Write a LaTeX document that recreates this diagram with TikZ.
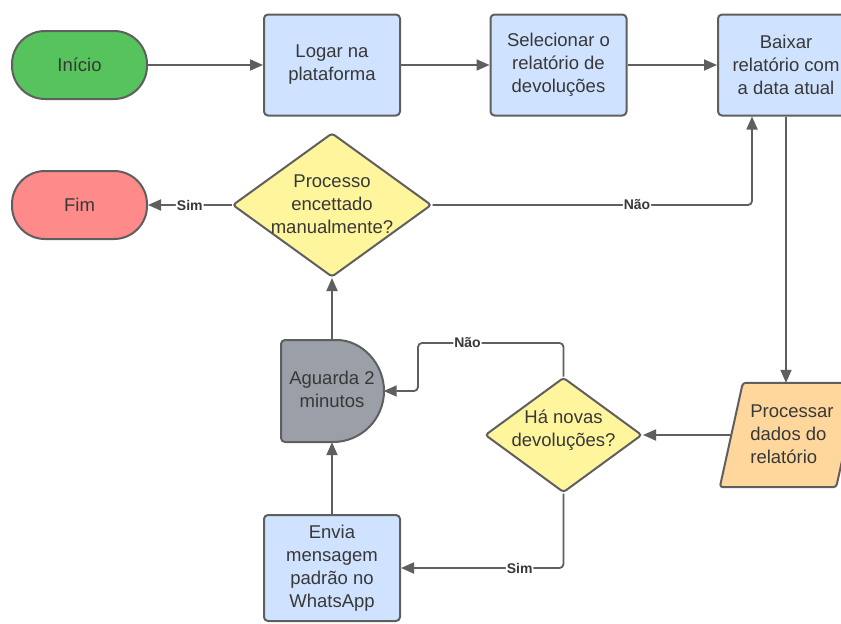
\documentclass[tikz,border=0pt]{standalone}
\usepackage{fontspec}
\setmainfont{Liberation Sans}
\usetikzlibrary{arrows.meta,shapes.geometric}

\definecolor{edge}{HTML}{5F5F5F}
\definecolor{ink}{HTML}{383838}
\definecolor{startgreen}{HTML}{57C35C}
\definecolor{endred}{HTML}{FF8A8A}
\definecolor{stepblue}{HTML}{CFE2FF}
\definecolor{askyellow}{HTML}{FFF59D}
\definecolor{dataorange}{HTML}{FFD79C}
\definecolor{waitgray}{HTML}{9B9FA7}

\begin{document}
\begin{tikzpicture}[x=1pt,y=-1pt,
  font=\fontsize{18.5}{23}\selectfont,
  outline/.style={draw=edge, line width=2pt, text=ink},
  terminal/.style={outline, rectangle, rounded corners=33pt,
    minimum width=135pt, minimum height=68pt, inner sep=0pt},
  stepbox/.style={outline, rectangle, rounded corners=4pt, fill=stepblue,
    minimum width=136pt, minimum height=101pt, align=center, inner sep=0pt},
  decision/.style={outline, diamond, fill=askyellow, inner sep=0pt, rounded corners=3pt},
  caption/.style={text=ink, align=center, inner sep=0pt},
  link/.style={draw=edge, line width=1.8pt, rounded corners=4pt,
    -{Triangle[length=13pt,width=11pt]}},
  lbl/.style={fill=white, text=ink, font=\fontsize{14}{16}\selectfont\bfseries, inner sep=1pt}
]
\fill[white] (0,0) rectangle (841,624);
\useasboundingbox (0,0) rectangle (841,624);
\clip (0,0) rectangle (841,624);

% top row
\node[terminal, fill=startgreen] (inicio) at (79.5,65) {Início};
\node[stepbox] (logar) at (332,65) {Logar na\\plataforma};
\node[stepbox] (sel) at (558.5,65) {Selecionar o\\relatório de\\devoluções};
\node[stepbox] (baixar) at (786,65) {Baixar\\relatório com\\a data atual};

% end and manual check
\node[terminal, fill=endred] (fim) at (79.5,205) {Fim};
\node[decision, minimum width=199pt, minimum height=144pt] (manual) at (332,205) {};
\node[caption] at (332,204) {Processo\\encettado\\manualmente?};

% data step (parallelogram)
\node[minimum width=116pt, minimum height=104pt, inner sep=0pt] (proc) at (789.5,435) {};
\draw[outline, fill=dataorange, rounded corners=3pt]
  ([xshift=-11.5pt]proc.south west) -- ([xshift=11.5pt]proc.north west)
  -- ([xshift=11.5pt]proc.north east) -- ([xshift=-11.5pt]proc.south east) -- cycle;
\node[caption, align=left] at (792,434) {Processar\\dados do\\relatório};

% new returns check
\node[decision, minimum width=157pt, minimum height=115pt] (novas) at (563.5,435) {};
\node[caption] at (563.5,430) {Há novas\\devoluções?};

% delay
\node[minimum width=103pt, minimum height=102pt, inner sep=0pt] (espera) at (332,391) {};
\draw[outline, fill=waitgray]
  (333,340) arc[start angle=90, end angle=-90, radius=51pt]
  [rounded corners=4pt] -- (281,442) -- (281,340) -- cycle;
\node[caption] at (332,389) {Aguarda 2\\minutos};

% message
\node[stepbox, minimum height=106pt] (envia) at (332,568) {Envia\\mensagem\\padrão no\\WhatsApp};

% connectors
\coordinate (desvio) at (418,343);
\draw[link] (inicio.east) -- (logar.west);
\draw[link] (logar.east) -- (sel.west);
\draw[link] (sel.east) -- (baixar.west);
\draw[link] (baixar.south) -- (baixar.south |- proc.north);
\draw[link] (proc.west) -- (novas.east);
\draw[link] (novas.north) |- node[lbl, pos=0.83] {Não} (desvio) |- (espera.east);
\draw[link] (novas.south) |- node[lbl, pos=0.635] {Sim} (envia.east);
\draw[link] (envia.north) -- (espera.south);
\draw[link] (espera.north) -- (manual.south);
\draw[link] (manual.west) -- node[lbl] {Sim} (fim.east);
\draw[link] (manual.east) -| node[lbl, pos=0.32] {Não} ([xshift=-34pt]baixar.south);
\end{tikzpicture}
\end{document}
